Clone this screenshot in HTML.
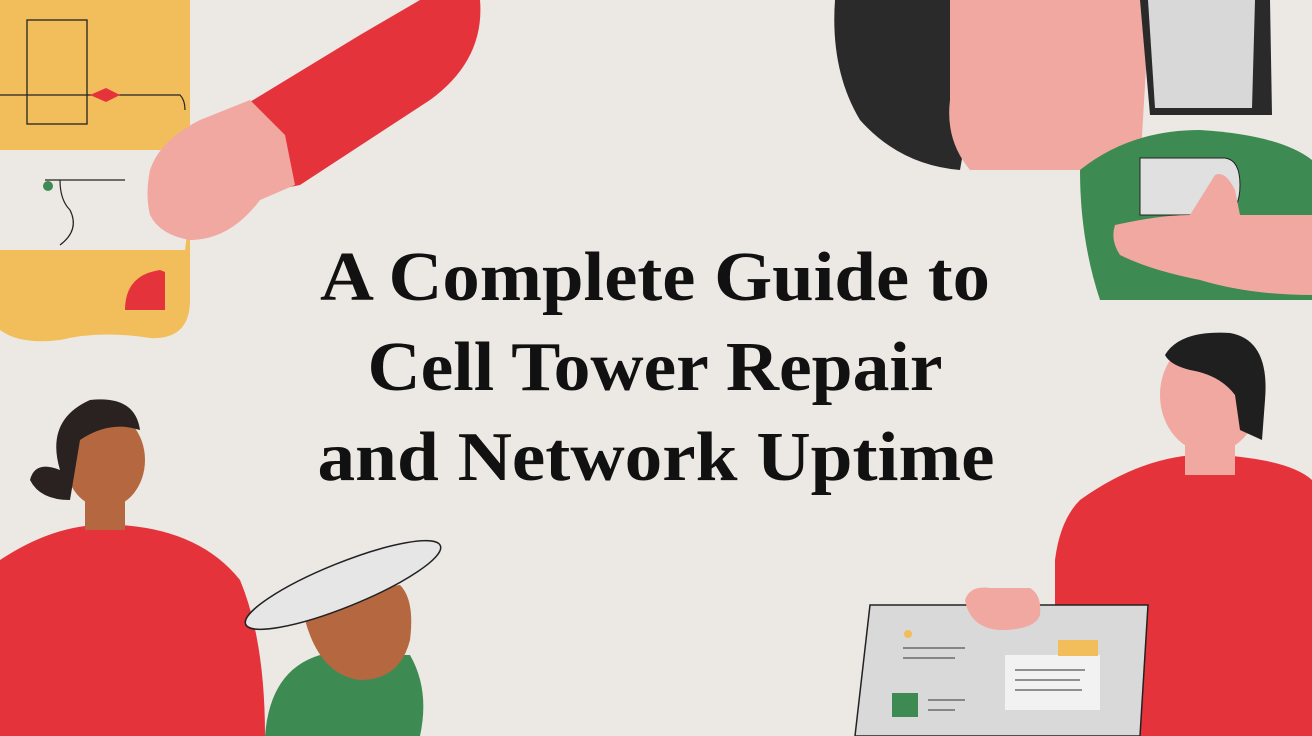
<!DOCTYPE html>
<html><head><meta charset="utf-8"><style>
html,body{margin:0;padding:0;background:#ECE8E4;}
svg{display:block}
</style></head><body>
<svg width="1312" height="736" viewBox="0 0 1312 736" xmlns="http://www.w3.org/2000/svg">
<rect width="1312" height="736" fill="#ECE8E4"/>
<!-- top-left yellow panel -->
<path d="M0 0 H190 V300 Q190 340 150 338 Q100 330 60 340 Q20 345 0 330 Z" fill="#F2BE5C"/>
<path d="M0 150 H185 Q192 200 185 250 H0 Z" fill="#ECE8E4"/>
<rect x="27" y="20" width="60" height="104" fill="none" stroke="#222" stroke-width="1.3"/>
<path d="M0 95 H180 Q185 100 185 110" fill="none" stroke="#222" stroke-width="1.2"/>
<path d="M90 95 L106 88 L120 95 L106 102 Z" fill="#E5333B"/>
<path d="M45 180 H125 M60 180 Q60 200 70 210 Q80 230 60 245" fill="none" stroke="#222" stroke-width="1.2"/>
<circle cx="48" cy="186" r="5" fill="#3E8A53"/>
<path d="M125 310 Q125 275 160 270 L165 272 L165 310 Z" fill="#E5333B"/>
<!-- red arm top -->
<path d="M245 105 L360 35 L420 0 H480 Q485 60 430 100 L300 185 L275 190 Z" fill="#E5333B"/>
<path d="M150 170 Q160 140 200 120 L250 100 L285 135 L295 185 L260 200 Q230 240 190 240 Q160 235 150 215 Q145 195 150 170 Z" fill="#F0A8A0"/>
<!-- top-right -->
<path d="M835 0 H990 L960 170 Q900 165 860 120 Q830 70 835 0 Z" fill="#2A2A2A"/>
<path d="M950 0 H1150 L1140 170 H970 Q945 140 950 100 Z" fill="#F0A8A0"/>
<path d="M1140 0 H1270 L1272 115 H1150 Z" fill="#2A2A2A"/>
<path d="M1148 0 H1255 L1252 108 H1155 Z" fill="#D8D8D8"/>
<path d="M1080 170 Q1130 130 1200 130 Q1280 135 1312 160 V300 H1100 Q1080 240 1080 170 Z" fill="#3E8A53"/>
<path d="M1140 158 H1225 Q1240 160 1240 185 Q1240 210 1225 215 H1140 Z" fill="#E0E0E0" stroke="#222"/>
<path d="M1115 225 Q1160 215 1190 215 L1215 175 Q1225 170 1235 190 L1240 215 H1312 V295 Q1250 295 1200 280 Q1150 270 1120 255 Q1110 240 1115 225 Z" fill="#F0A8A0"/>
<!-- title -->
<g font-family="'Liberation Serif',serif" font-weight="bold" font-size="70" fill="#111" text-anchor="middle">
<text x="655" y="300" textLength="670" lengthAdjust="spacingAndGlyphs">A Complete Guide to</text>
<text x="655" y="390" textLength="575" lengthAdjust="spacingAndGlyphs">Cell Tower Repair</text>
<text x="656" y="480" textLength="677" lengthAdjust="spacingAndGlyphs">and Network Uptime</text>
</g>
<!-- bottom-left person -->
<path d="M0 560 Q60 520 120 525 Q200 530 240 580 Q265 640 265 736 H0 Z" fill="#E5333B"/>
<path d="M265 736 Q270 670 320 655 H410 Q430 690 420 736 Z" fill="#3E8A53"/>
<rect x="85" y="480" width="40" height="50" fill="#B5683F"/>
<ellipse cx="105" cy="460" rx="40" ry="48" fill="#B5683F"/>
<path d="M60 470 Q45 420 90 400 Q135 395 140 430 Q110 420 80 440 Q75 470 70 500 Q40 500 30 480 Q35 460 60 470 Z" fill="#2A2220"/>
<path d="M305 620 Q310 580 340 585 L360 590 L400 585 Q415 600 410 640 Q400 680 360 680 Q320 675 305 620 Z" fill="#B5683F"/>
<ellipse cx="343" cy="585" rx="105" ry="22" transform="rotate(-22 343 585)" fill="#E6E6E6" stroke="#222" stroke-width="1.5"/>
<!-- bottom-right man -->
<path d="M1080 500 Q1150 450 1220 455 Q1290 460 1312 480 V736 H1055 V560 Q1060 520 1080 500 Z" fill="#E5333B"/>
<rect x="1185" y="430" width="50" height="45" fill="#F0A8A0"/>
<ellipse cx="1210" cy="395" rx="50" ry="58" fill="#F0A8A0"/>
<path d="M1165 355 Q1180 330 1230 333 Q1270 340 1265 400 L1262 440 L1240 430 L1235 395 Q1220 375 1190 370 Q1170 365 1165 355 Z" fill="#1F1F1F"/>
<path d="M855 736 L870 605 H1148 L1140 736 Z" fill="#D9D9D9" stroke="#222" stroke-width="1.5"/>
<rect x="1005" y="655" width="95" height="55" fill="#F2F2F2"/>
<rect x="1058" y="640" width="40" height="16" fill="#F2BE5C"/>
<rect x="892" y="693" width="26" height="24" fill="#3E8A53"/>
<circle cx="908" cy="634" r="4" fill="#F2BE5C"/>
<g stroke="#555" stroke-width="1.3"><line x1="903" y1="648" x2="965" y2="648"/><line x1="903" y1="658" x2="955" y2="658"/><line x1="1015" y1="670" x2="1085" y2="670"/><line x1="1015" y1="680" x2="1080" y2="680"/><line x1="1015" y1="690" x2="1082" y2="690"/><line x1="928" y1="700" x2="965" y2="700"/><line x1="928" y1="710" x2="955" y2="710"/></g>
<path d="M965 600 Q970 585 990 588 H1030 Q1042 595 1040 615 Q1035 630 1000 630 Q970 628 965 600 Z" fill="#F0A8A0"/>
</svg>
</body></html>
